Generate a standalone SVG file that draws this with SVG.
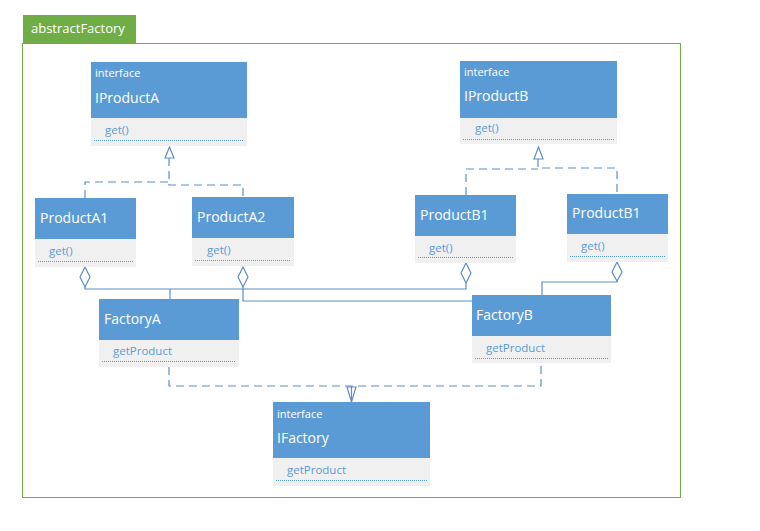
<svg xmlns="http://www.w3.org/2000/svg" width="760" height="531" viewBox="0 0 760 531">
  <defs>
    <style>
      .head { fill: #5b9bd5; }
      .body { fill: #f0f0f0; }
      .sep { stroke: #5b9bd5; stroke-width: 1; stroke-dasharray: 1 1; fill: none; }
      .stereo { font-family: "Open Sans", "Noto Sans", sans-serif; font-size: 11px; fill: #ffffff; }
      .name { font-family: "Open Sans", "Noto Sans", sans-serif; font-size: 14px; fill: #ffffff; }
      .op { font-family: "Open Sans", "Noto Sans", sans-serif; font-size: 11.5px; fill: #5b9bd5; }
      .wire { stroke: #5b8fc9; stroke-width: 1.2; fill: none; }
      .dash { stroke: #5b8fc9; stroke-width: 1.2; fill: none; stroke-dasharray: 8 5; }
      .tri { fill: #ffffff; stroke: #5b8fc9; stroke-width: 1.2; }
      .dia { fill: #ffffff; stroke: #5b8fc9; stroke-width: 1.2; }
    </style>
  </defs>

  <rect width="760" height="531" fill="#ffffff"/>

  <!-- package frame -->
  <g id="package">
    <rect x="22.5" y="43.5" width="658" height="454" fill="none" stroke="#70ad47" stroke-width="1"/>
    <rect x="23" y="15" width="113" height="28" fill="#70ad47"/>
    <text x="31" y="33" font-family="'Open Sans', 'Noto Sans', sans-serif" font-size="13" fill="#ffffff">abstractFactory</text>
  </g>

  <!-- connectors -->
  <g id="connectors">
    <!-- realization: ProductA1/A2 -> IProductA -->
    <path class="dash" d="M85 198 V182 H169"/>
    <path class="dash" d="M169 158 V185 H243 V197"/>
    <polygon class="tri" points="169.5,147 165,158 174,158"/>
    <!-- realization: ProductB1/B1 -> IProductB -->
    <path class="dash" d="M466 195 V169 H538"/>
    <path class="dash" d="M538 159 V168 H617 V194"/>
    <polygon class="tri" points="538.5,147 534,159 543,159"/>
    <!-- realization: FactoryA/B -> IFactory -->
    <path class="dash" d="M169 367 V386 H541 V363"/>
    <polygon class="tri" points="347,387 356,387 351.5,402"/>
    <line class="wire" x1="351.5" y1="386" x2="351.5" y2="402"/>
    <!-- aggregation: FactoryA -> ProductA1, ProductB1 -->
    <path class="wire" d="M85 287 V289 H466 V283"/>
    <path class="wire" d="M170 289 V299"/>
    <!-- aggregation: FactoryB -> ProductA2 -->
    <path class="wire" d="M243 287 V301 H472"/>
    <!-- aggregation: FactoryB -> ProductB1 (right) -->
    <path class="wire" d="M617 281 V282 H542 V295"/>
    <!-- diamonds -->
    <polygon class="dia" points="85,267 90,277 85,287 80,277"/>
    <polygon class="dia" points="243,267 248,277 243,287 238,277"/>
    <polygon class="dia" points="466,263 471,273 466,283 461,273"/>
    <polygon class="dia" points="617,262 622,272 617,281 612,272"/>
  </g>

  <!-- IProductA -->
  <g id="IProductA">
    <rect class="head" x="91" y="62" width="156" height="56"/>
    <rect class="body" x="91" y="118" width="156" height="28"/>
    <line class="sep" x1="94" y1="140.5" x2="244" y2="140.5"/>
    <text class="stereo" x="95" y="77">interface</text>
    <text class="name" x="95" y="103">IProductA</text>
    <text class="op" x="105" y="134">get()</text>
  </g>

  <!-- IProductB -->
  <g id="IProductB">
    <rect class="head" x="460" y="61" width="157" height="57"/>
    <rect class="body" x="460" y="118" width="157" height="26"/>
    <line class="sep" x1="463" y1="139.5" x2="614" y2="139.5"/>
    <text class="stereo" x="464" y="76">interface</text>
    <text class="name" x="464" y="101">IProductB</text>
    <text class="op" x="475" y="132">get()</text>
  </g>

  <!-- ProductA1 -->
  <g id="ProductA1">
    <rect class="head" x="35" y="198" width="101" height="41"/>
    <rect class="body" x="35" y="239" width="101" height="28"/>
    <line class="sep" x1="38" y1="261.5" x2="133" y2="261.5"/>
    <text class="name" x="40" y="223">ProductA1</text>
    <text class="op" x="49" y="255">get()</text>
  </g>

  <!-- ProductA2 -->
  <g id="ProductA2">
    <rect class="head" x="192" y="197" width="102" height="41"/>
    <rect class="body" x="192" y="238" width="102" height="28"/>
    <line class="sep" x1="195" y1="260.5" x2="291" y2="260.5"/>
    <text class="name" x="197" y="222">ProductA2</text>
    <text class="op" x="207" y="254">get()</text>
  </g>

  <!-- ProductB1 (left) -->
  <g id="ProductB1">
    <rect class="head" x="415" y="195" width="101" height="41"/>
    <rect class="body" x="415" y="236" width="101" height="27"/>
    <line class="sep" x1="418" y1="257.5" x2="513" y2="257.5"/>
    <text class="name" x="420" y="220">ProductB1</text>
    <text class="op" x="429" y="252">get()</text>
  </g>

  <!-- ProductB1 (right) -->
  <g id="ProductB2">
    <rect class="head" x="567" y="194" width="101" height="40"/>
    <rect class="body" x="567" y="234" width="101" height="28"/>
    <line class="sep" x1="570" y1="256.5" x2="665" y2="256.5"/>
    <text class="name" x="572" y="218">ProductB1</text>
    <text class="op" x="581" y="250">get()</text>
  </g>

  <!-- FactoryA -->
  <g id="FactoryA">
    <rect class="head" x="99" y="299" width="140" height="41"/>
    <rect class="body" x="99" y="340" width="140" height="27"/>
    <line class="sep" x1="102" y1="361.5" x2="236" y2="361.5"/>
    <text class="name" x="104" y="324">FactoryA</text>
    <text class="op" x="113" y="355">getProduct</text>
  </g>

  <!-- FactoryB -->
  <g id="FactoryB">
    <rect class="head" x="472" y="295" width="139" height="41"/>
    <rect class="body" x="472" y="336" width="139" height="27"/>
    <line class="sep" x1="475" y1="358.5" x2="608" y2="358.5"/>
    <text class="name" x="476" y="320">FactoryB</text>
    <text class="op" x="486" y="352">getProduct</text>
  </g>

  <!-- IFactory -->
  <g id="IFactory">
    <rect class="head" x="273" y="402" width="157" height="56"/>
    <rect class="body" x="273" y="458" width="157" height="28"/>
    <line class="sep" x1="276" y1="480.5" x2="427" y2="480.5"/>
    <text class="stereo" x="277" y="418">interface</text>
    <text class="name" x="277" y="443">IFactory</text>
    <text class="op" x="287" y="474">getProduct</text>
  </g>
</svg>
